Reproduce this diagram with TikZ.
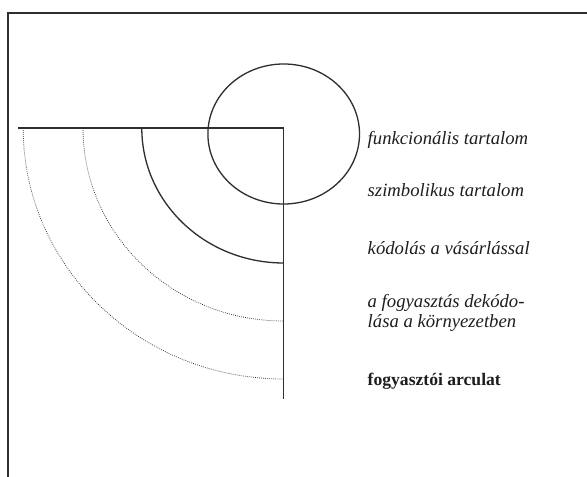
\documentclass[tikz,border=0pt]{standalone}
\usepackage{fontspec}
\setmainfont{Liberation Serif}
\definecolor{ink}{HTML}{2E2E2E}
\definecolor{txt}{HTML}{1E1E1E}
\begin{document}
\begin{tikzpicture}[x=1pt,y=1pt,
  frameline/.style={draw=ink,line width=1.5pt},
  mainline/.style={draw=ink,line width=1.3pt},
  dotline/.style={draw=ink,line width=0.75pt,dash pattern=on 0.75pt off 1.3pt},
  lbl/.style={anchor=west,inner sep=0pt,text=txt,font=\fontsize{18.7}{20}\selectfont\itshape,align=left},
  blbl/.style={anchor=west,inner sep=0pt,text=txt,font=\fontsize{17.6}{20}\selectfont\bfseries}]
\useasboundingbox (0,0) rectangle (587,477);
\fill[white] (0,0) rectangle (587,477);
% frame
\coordinate (ftr) at (587,464);
\coordinate (ftl) at (8,464);
\coordinate (fbl) at (8,0);
\draw[frameline] (ftr) -- (ftl) -- (fbl);
% axes
\coordinate (O) at (283.7,349);
\coordinate (hl) at (17.8,349);
\coordinate (vb) at (283.7,78);
\draw[mainline] (hl) -- (O) -- (vb);
% arcs
\coordinate (a1) at (141.8,349);
\coordinate (a2) at (83,349);
\coordinate (a3) at (23.2,349);
\draw[mainline] (a1) arc[start angle=180,end angle=270,x radius=141.9pt,y radius=135pt];
\draw[dotline] (a2) arc[start angle=180,end angle=270,x radius=200.7pt,y radius=193pt];
\draw[dotline] (a3) arc[start angle=180,end angle=270,x radius=260.5pt,y radius=251pt];
% circle
\coordinate (C) at (283.7,343);
\draw[mainline] (C) ellipse[x radius=75.8pt,y radius=70pt];
% labels
\node[lbl] (l1) at (367.5,337) {funkcionális tartalom};
\node[lbl] (l2) at (367.5,287) {szimbolikus tartalom};
\node[lbl] (l3) at (367.5,229) {kódolás a vásárlással};
\node[lbl] (l4) at (367.5,164) {a fogyasztás dekódo-\\lása a környezetben};
\node[blbl] (l5) at (367.5,96) {fogyasztói arculat};
\end{tikzpicture}
\end{document}
